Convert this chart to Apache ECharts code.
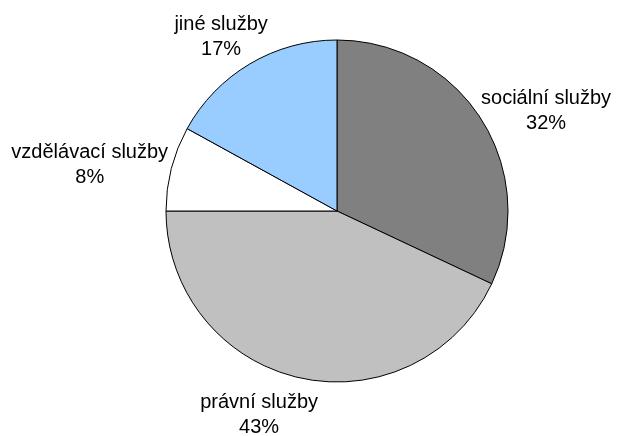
<!DOCTYPE html>
<html>
<head>
<meta charset="utf-8">
<script src="https://cdn.jsdelivr.net/npm/echarts@6/dist/echarts.min.js"></script>
<style>
html,body{margin:0;padding:0;background:#fff;}
#chart{width:621px;height:436px;}
</style>
</head>
<body>
<div id="chart"></div>
<script>
// Data
const categories = ['sociální služby', 'právní služby', 'vzdělávací služby', 'jiné služby'];
const values = [32, 43, 8, 17];

// Styling / layout
const colors = ['#808080', '#c0c0c0', '#ffffff', '#99ccff'];
const CENTER = [337, 211];
const RADIUS = 171;
const LABEL_GAP = 8;
const LABEL_NUDGE = [[3, 9], [-26, 5], [2, 5], [-1, 2]];

const total = values.reduce((a, b) => a + b, 0);
const midAngles = [];
let acc = 0;
values.forEach(v => { midAngles.push((acc + v / 2) / total * 2 * Math.PI); acc += v; });

const chart = echarts.init(document.getElementById('chart'), null, { renderer: 'canvas' });
chart.setOption({
  animation: false,
  backgroundColor: '#ffffff',
  series: [{
    type: 'pie',
    center: CENTER,
    radius: RADIUS,
    startAngle: 90,
    clockwise: true,
    avoidLabelOverlap: false,
    data: categories.map((c, i) => ({ name: c, value: values[i], itemStyle: { color: colors[i] } })),
    itemStyle: { borderColor: '#000000', borderWidth: 1 },
    emphasis: { disabled: true },
    label: {
      show: true,
      position: 'outside',
      formatter: '{b}\n{d}%',
      fontFamily: 'Arial, "Liberation Sans", sans-serif',
      fontSize: 20,
      lineHeight: 25,
      color: '#000000',
      align: 'center'
    },
    labelLine: { show: false },
    labelLayout: function (p) {
      const i = p.dataIndex;
      const a = midAngles[i];
      const dx = Math.sin(a), dy = -Math.cos(a);
      const ex = CENTER[0] + RADIUS * dx, ey = CENTER[1] + RADIUS * dy;
      const w = p.labelRect.width, h = p.labelRect.height;
      return {
        x: ex + dx * LABEL_GAP + dx * w / 2 + LABEL_NUDGE[i][0],
        y: ey + dy * LABEL_GAP + dy * h / 2 + LABEL_NUDGE[i][1],
        align: 'center',
        verticalAlign: 'middle'
      };
    }
  }]
});
</script>
</body>
</html>
